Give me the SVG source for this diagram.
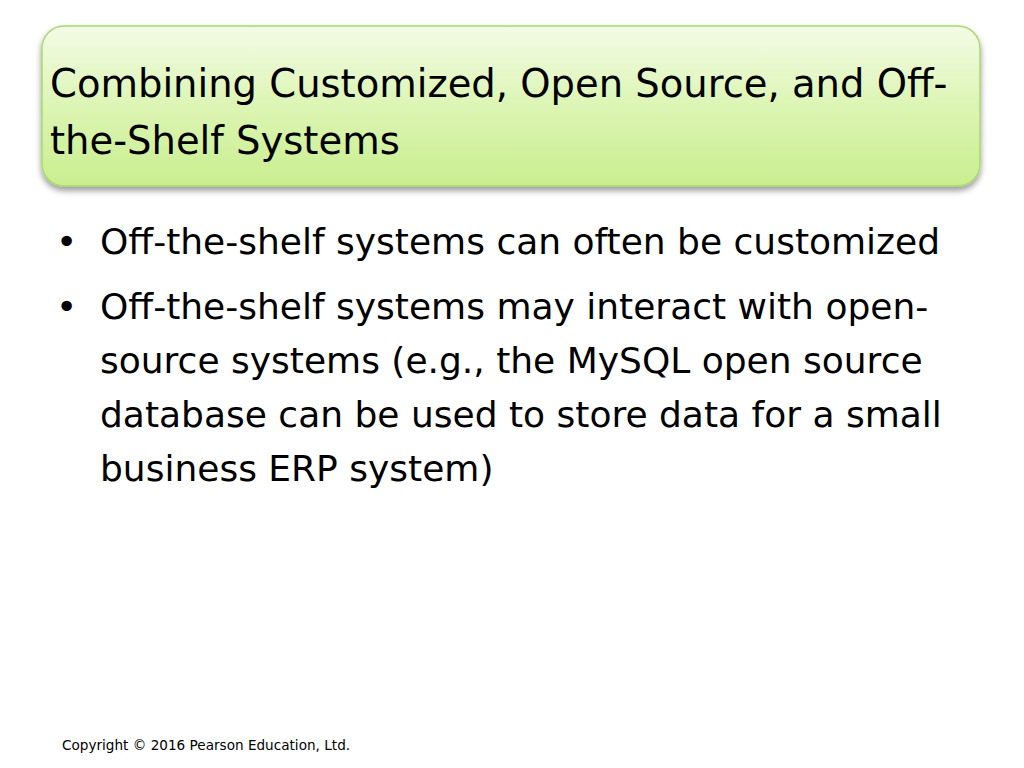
<svg xmlns="http://www.w3.org/2000/svg" width="1024" height="768" viewBox="0 0 1024 768">
<defs>
<linearGradient id="g" x1="0" y1="0" x2="0" y2="1">
<stop offset="0" stop-color="#f3fbe6"/>
<stop offset="0.5" stop-color="#dcf5b4"/>
<stop offset="1" stop-color="#c9ee8e"/>
</linearGradient>
<filter id="s" x="-5%" y="-10%" width="110%" height="130%">
<feGaussianBlur in="SourceAlpha" stdDeviation="3"/>
<feOffset dx="0" dy="4"/>
<feComponentTransfer><feFuncA type="linear" slope="0.4"/></feComponentTransfer>
<feMerge><feMergeNode/><feMergeNode in="SourceGraphic"/></feMerge>
</filter>
</defs>
<style>
text{font-family:"DejaVu Sans","Noto Sans",sans-serif;fill:#000}
.t{font-size:38.5px}
.b{font-size:36px}
.c{font-size:13.6px}
</style>
<rect width="1024" height="768" fill="#fff"/>
<g id="title">
<rect x="42" y="26" width="938" height="160" rx="22" fill="url(#g)" stroke="#a8d86e" stroke-width="1.5" filter="url(#s)"/>
<text class="t" x="50" y="97">Combining Customized, Open Source, and Off-</text>
<text class="t" x="50" y="154">the-Shelf Systems</text>
</g>
<g id="bullets">
<text class="b" x="56" y="254" font-size="40">•</text>
<text class="b" x="100" y="254">Off-the-shelf systems can often be customized</text>
<text class="b" x="56" y="319" font-size="40">•</text>
<text class="b" x="100" y="319">Off-the-shelf systems may interact with open-</text>
<text class="b" x="100" y="373">source systems (e.g., the MySQL open source</text>
<text class="b" x="100" y="427">database can be used to store data for a small</text>
<text class="b" x="100" y="481">business ERP system)</text>
</g>
<text class="c" x="62" y="750">Copyright © 2016 Pearson Education, Ltd.</text>
</svg>
